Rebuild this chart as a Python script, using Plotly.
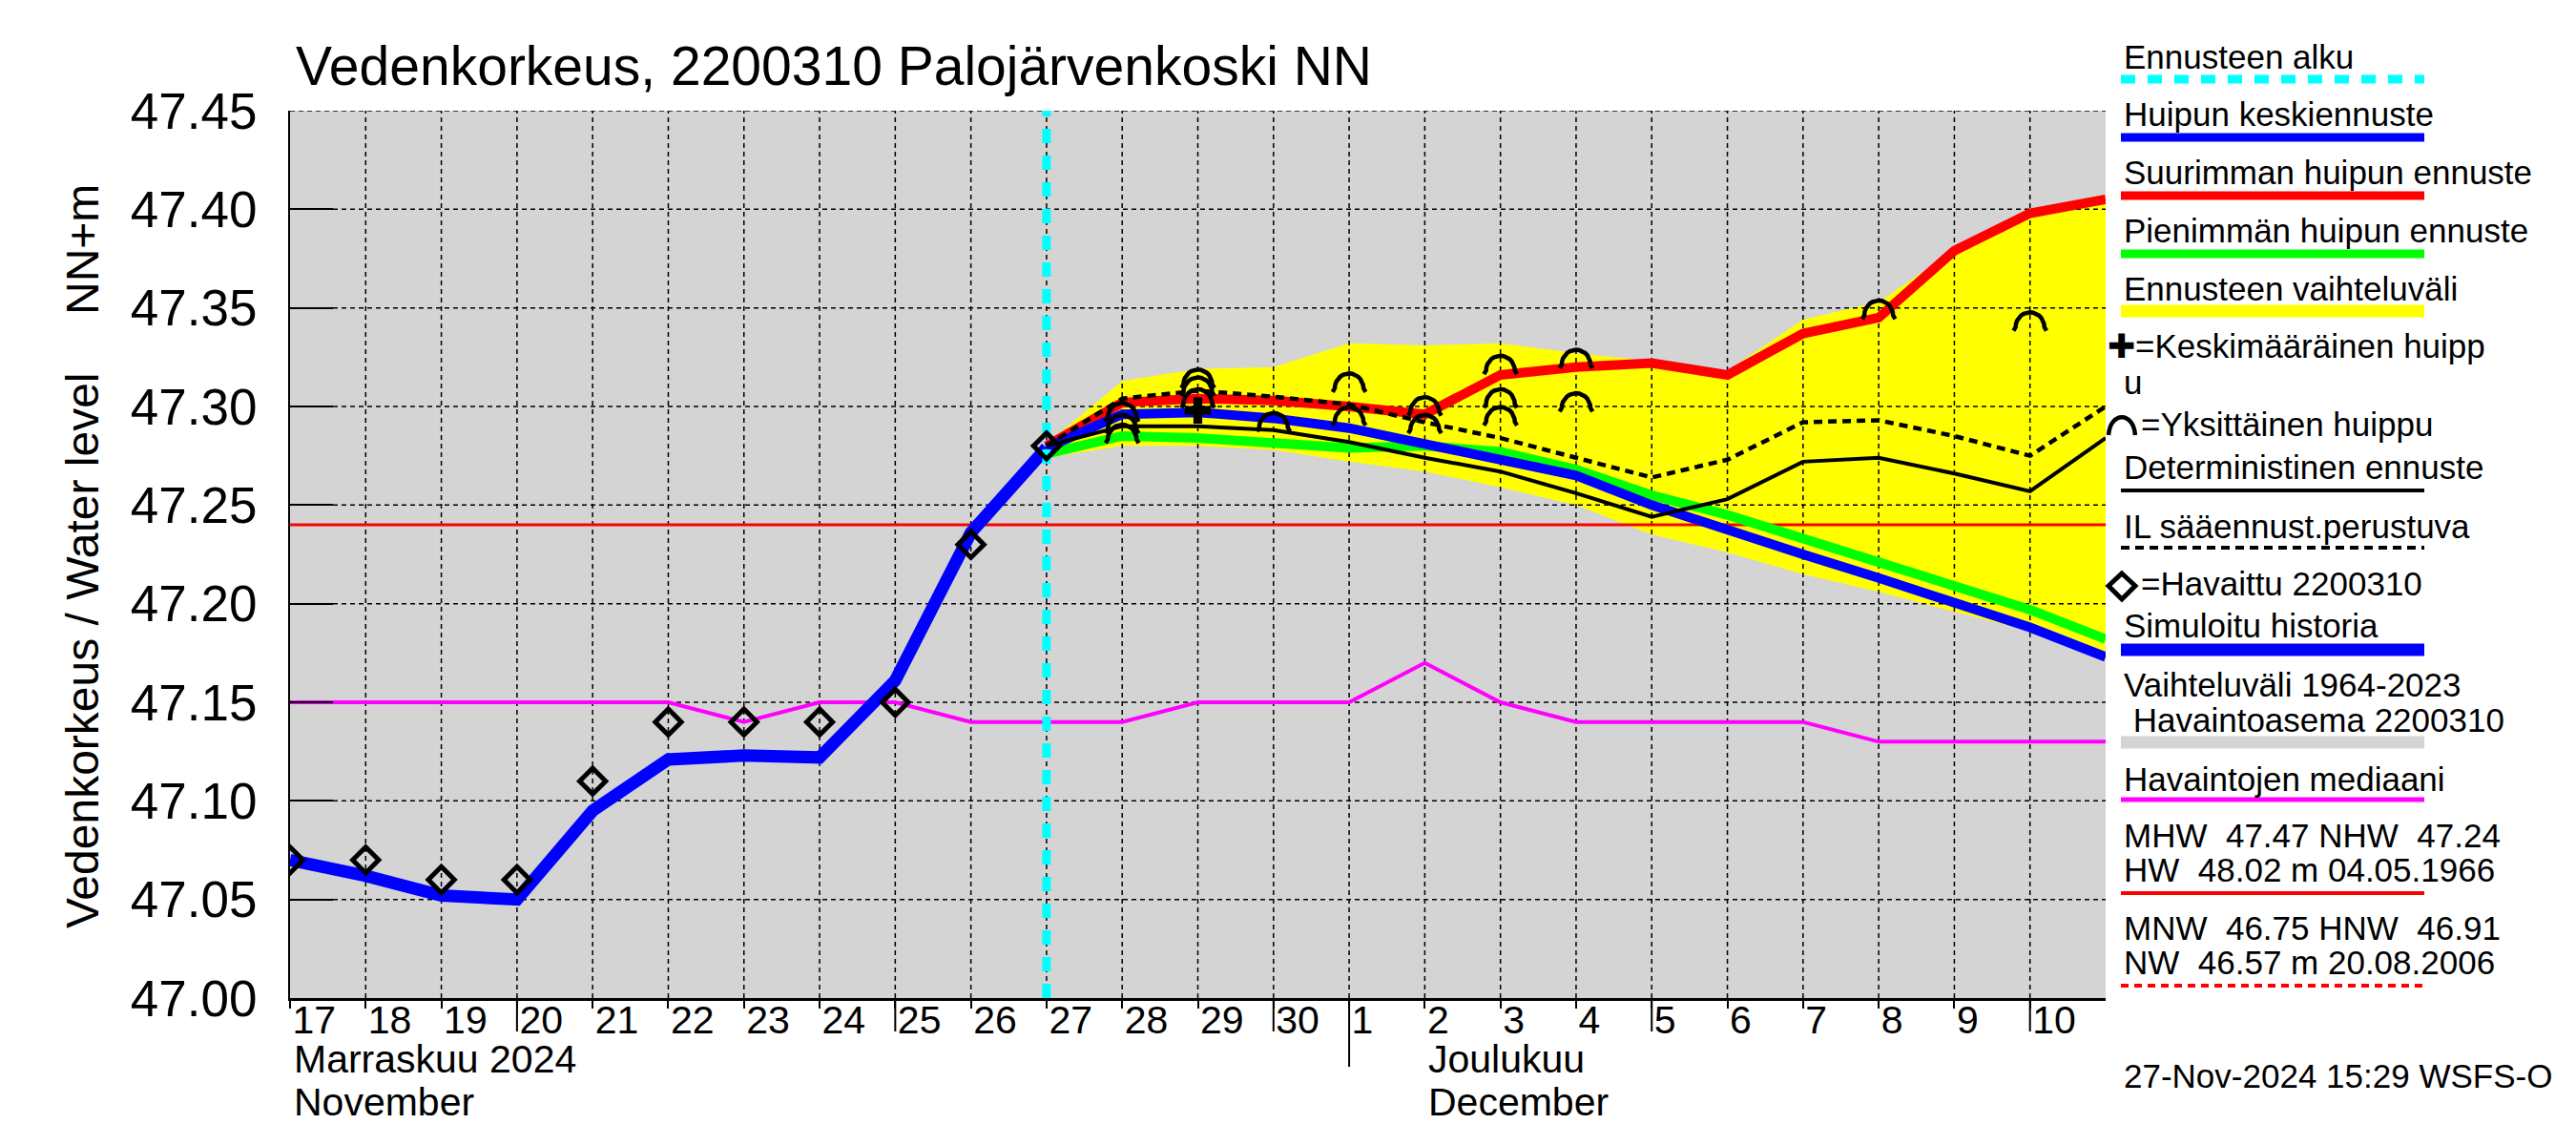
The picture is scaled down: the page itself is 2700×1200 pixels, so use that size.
import math
import plotly.graph_objects as go
import pandas as pd

W, H = 2700, 1200
PL, PR, PT, PB = 304, 2207, 116, 1046

# ---------------- data ----------------
hist_days = pd.date_range("2024-11-17", "2024-11-27", freq="D")
obs_vals = [47.07, 47.07, 47.06, 47.06, 47.11, 47.14, 47.14, 47.14, 47.15, 47.23, 47.28]
sim_vals = [47.070, 47.062, 47.052, 47.050, 47.095, 47.121, 47.123, 47.122, 47.161, 47.236, 47.279]

fc_days = pd.date_range("2024-11-27", "2024-12-11", freq="D")
mean_fc = [47.279, 47.296, 47.297, 47.294, 47.289, 47.281, 47.274, 47.265, 47.250,
           47.237, 47.225, 47.213, 47.200, 47.188, 47.173]
max_fc = [47.280, 47.302, 47.304, 47.303, 47.300, 47.296, 47.316, 47.320, 47.322,
          47.316, 47.337, 47.345, 47.379, 47.398, 47.405]
min_fc = [47.276, 47.285, 47.284, 47.282, 47.279, 47.280, 47.277, 47.268, 47.255,
          47.245, 47.233, 47.221, 47.209, 47.197, 47.182]
det_fc = [47.280, 47.290, 47.290, 47.288, 47.282, 47.274, 47.267, 47.256, 47.244,
          47.253, 47.272, 47.274, 47.266, 47.257, 47.284]
il_fc = [47.280, 47.304, 47.308, 47.305, 47.301, 47.292, 47.284, 47.274, 47.264,
         47.273, 47.292, 47.293, 47.285, 47.275, 47.300]
band_hi = [47.281, 47.313, 47.319, 47.320, 47.332, 47.331, 47.332, 47.327, 47.323,
           47.318, 47.344, 47.353, 47.379, 47.398, 47.407]
band_lo = [47.274, 47.280, 47.280, 47.278, 47.272, 47.267, 47.259, 47.250, 47.235,
           47.226, 47.215, 47.206, 47.196, 47.186, 47.171]

median_days = pd.date_range("2024-11-17", "2024-12-11", freq="D")
median_vals = [47.15, 47.15, 47.15, 47.15, 47.15, 47.15, 47.14, 47.15, 47.15, 47.14,
               47.14, 47.14, 47.15, 47.15, 47.15, 47.17, 47.15, 47.14, 47.14, 47.14,
               47.14, 47.13, 47.13, 47.13, 47.13]

peak_days = ["2024-11-28", "2024-11-28", "2024-11-28",
             "2024-11-29", "2024-11-29", "2024-11-29",
             "2024-11-30",
             "2024-12-01", "2024-12-01",
             "2024-12-02", "2024-12-02",
             "2024-12-03", "2024-12-03", "2024-12-03",
             "2024-12-04", "2024-12-04",
             "2024-12-08", "2024-12-10"]
peak_vals = [47.298, 47.292, 47.287,
             47.315, 47.311, 47.305,
             47.293,
             47.313, 47.296,
             47.301, 47.292,
             47.322, 47.305, 47.296,
             47.325, 47.303,
             47.350, 47.344]
mean_peak_days = ["2024-11-29"]
mean_peak_vals = [47.298]

nhw_level = 47.24
forecast_start = "2024-11-27"
x_range = ["2024-11-17", "2024-12-11"]
y_range = [47.00, 47.45]
y_ticks = [47.00, 47.05, 47.10, 47.15, 47.20, 47.25, 47.30, 47.35, 47.40, 47.45]
tick_days = pd.date_range("2024-11-17", "2024-12-10", freq="D")
tick_text = [str(d.day) for d in tick_days]
long_tick_days = ["2024-11-20", "2024-11-25", "2024-11-30", "2024-12-05", "2024-12-10"]
month_tick_days = ["2024-12-01"]

title_text = "Vedenkorkeus, 2200310 Palojärvenkoski NN"

# ---------------- helpers ----------------
def px_x(px):
    return (px - PL) / (PR - PL)

def px_y(py):
    return (PB - py) / (PB - PT)

# size of the single-peak arc glyph, in axis units (about 15 px radius)
ARC_R_DAYS = 0.19
ARC_R_M = 0.0075

fig = go.Figure()

# forecast range band
fig.add_trace(go.Scatter(x=fc_days, y=band_lo, mode="lines", line=dict(width=0, color="#ffff00"),
                         hoverinfo="skip"))
fig.add_trace(go.Scatter(x=fc_days, y=band_hi, mode="lines", line=dict(width=0, color="#ffff00"),
                         fill="tonexty", fillcolor="#ffff00", hoverinfo="skip"))

# grid lines (drawn above the band, below the lines)
gx, gy = [], []
for d in tick_days[1:]:
    gx += [d, d, None]
    gy += [y_range[0], y_range[1], None]
fig.add_trace(go.Scatter(x=gx, y=gy, mode="lines", line=dict(color="black", width=1.5, dash="5px,4px"),
                         hoverinfo="skip"))
hx, hy = [], []
for v in y_ticks[1:]:
    hx += [x_range[0], x_range[1], None]
    hy += [v, v, None]
fig.add_trace(go.Scatter(x=hx, y=hy, mode="lines", line=dict(color="black", width=1.5, dash="5px,4px"),
                         hoverinfo="skip"))

# median
fig.add_trace(go.Scatter(x=median_days, y=median_vals, mode="lines", line=dict(color="#ff00ff", width=4)))
# NHW
fig.add_trace(go.Scatter(x=x_range, y=[nhw_level, nhw_level], mode="lines", line=dict(color="#ff0000", width=3)))
# simulated history
fig.add_trace(go.Scatter(x=hist_days, y=sim_vals, mode="lines", line=dict(color="#0000ff", width=13)))
# forecasts
fig.add_trace(go.Scatter(x=fc_days, y=min_fc, mode="lines", line=dict(color="#00ff00", width=10)))
fig.add_trace(go.Scatter(x=fc_days, y=max_fc, mode="lines", line=dict(color="#ff0000", width=10)))
fig.add_trace(go.Scatter(x=fc_days, y=mean_fc, mode="lines", line=dict(color="#0000ff", width=10)))
fig.add_trace(go.Scatter(x=fc_days, y=det_fc, mode="lines", line=dict(color="black", width=4)))
fig.add_trace(go.Scatter(x=fc_days, y=il_fc, mode="lines", line=dict(color="black", width=4.5, dash="9px,6px")))

# forecast start
fig.add_trace(go.Scatter(x=[forecast_start, forecast_start], y=y_range, mode="lines",
                         line=dict(color="#00ffff", width=9, dash="15px,13px")))

# observations
fig.add_trace(go.Scatter(x=hist_days, y=obs_vals, mode="markers",
                         marker=dict(symbol="diamond-open", size=21, color="black",
                                     line=dict(width=5, color="black"))))

# single peaks: small arcs centred on each peak value
arc_t = [math.pi * i / 14 for i in range(15)]
ax, ay = [], []
for d, v in zip(peak_days, peak_vals):
    ts = pd.Timestamp(d)
    ax.append(ts + pd.Timedelta(days=ARC_R_DAYS * 1.15))
    ay.append(v - ARC_R_M * 0.75)
    for t in arc_t:
        ax.append(ts + pd.Timedelta(days=ARC_R_DAYS * math.cos(t)))
        ay.append(v - ARC_R_M * 0.5 + ARC_R_M * math.sin(t))
    ax.append(ts - pd.Timedelta(days=ARC_R_DAYS * 1.15))
    ay.append(v - ARC_R_M * 0.75)
    ax.append(None)
    ay.append(None)
fig.add_trace(go.Scatter(x=ax, y=ay, mode="lines", line=dict(color="black", width=4.5),
                         hoverinfo="skip"))
# mean peak
fig.add_trace(go.Scatter(x=mean_peak_days, y=mean_peak_vals, mode="markers",
                         marker=dict(symbol="cross", size=23, color="black")))

# ---------------- shapes: long ticks & legend graphics ----------------
shapes = []
for d in long_tick_days:
    shapes.append(dict(type="line", xref="x", yref="paper", x0=d, x1=d, y0=0, y1=-35 / (PB - PT),
                       line=dict(color="black", width=2)))
for d in month_tick_days:
    shapes.append(dict(type="line", xref="x", yref="paper", x0=d, x1=d, y0=0, y1=-72 / (PB - PT),
                       line=dict(color="black", width=2)))

LX0, LX1 = px_x(2223), px_x(2541)
legend_lines = [
    (83, "#00ffff", 9, "15px,13px"),
    (144, "#0000ff", 9, None),
    (205, "#ff0000", 9, None),
    (266, "#00ff00", 9, None),
    (326, "#ffff00", 13, None),
    (514, "black", 4, None),
    (574, "black", 4, "9px,6px"),
    (681, "#0000ff", 13, None),
    (778, "#d4d4d4", 13, None),
    (838, "#ff00ff", 5, None),
    (936, "#ff0000", 4, None),
    (1033, "#ff0000", 4, "8px,6px"),
]
for py, col, w, dash in legend_lines:
    ln = dict(color=col, width=w)
    if dash:
        ln["dash"] = dash
    shapes.append(dict(type="line", xref="paper", yref="paper", x0=LX0, x1=LX1,
                       y0=px_y(py), y1=px_y(py), line=ln))

# legend arc symbol
shapes.append(dict(type="path", xref="paper", yref="paper",
                   path="M {:.5f},{:.5f} C {:.5f},{:.5f} {:.5f},{:.5f} {:.5f},{:.5f}".format(
                       px_x(2210), px_y(456), px_x(2212), px_y(431), px_x(2236), px_y(431),
                       px_x(2238), px_y(456)),
                   line=dict(color="black", width=4.5)))
# legend diamond symbol
shapes.append(dict(type="path", xref="paper", yref="paper",
                   path="M {:.5f},{:.5f} L {:.5f},{:.5f} L {:.5f},{:.5f} L {:.5f},{:.5f} Z".format(
                       px_x(2224), px_y(601), px_x(2238), px_y(614), px_x(2224), px_y(628),
                       px_x(2210), px_y(614)),
                   line=dict(color="black", width=5)))

# ---------------- annotations ----------------
NB = "\u00a0"
legend_texts = [
    (2224, 59, "Ennusteen alku"),
    (2224, 120, "Huipun keskiennuste"),
    (2224, 180, "Suurimman huipun ennuste"),
    (2224, 241, "Pienimmän huipun ennuste"),
    (2224, 302, "Ennusteen vaihteluväli"),
    (2207, 362, "✚=Keskimääräinen huipp"),
    (2224, 400, "u"),
    (2242, 444, "=Yksittäinen huippu"),
    (2224, 490, "Deterministinen ennuste"),
    (2224, 551, "IL sääennust.perustuva"),
    (2242, 611, "=Havaittu 2200310"),
    (2224, 656, "Simuloitu historia"),
    (2224, 717, "Vaihteluväli 1964-2023"),
    (2224, 754, NB + "Havaintoasema 2200310"),
    (2224, 816, "Havaintojen mediaani"),
    (2224, 875, "MHW" + NB + NB + "47.47 NHW" + NB + NB + "47.24"),
    (2224, 911, "HW" + NB + NB + "48.02 m 04.05.1966"),
    (2224, 972, "MNW" + NB + NB + "46.75 HNW" + NB + NB + "46.91"),
    (2224, 1008, "NW" + NB + NB + "46.57 m 20.08.2006"),
    (2224, 1127, "27-Nov-2024 15:29 WSFS-O"),
]
annotations = []
for px, py, t in legend_texts:
    annotations.append(dict(x=px_x(px), y=px_y(py), xref="paper", yref="paper", text=t,
                            showarrow=False, xanchor="left", yanchor="middle",
                            font=dict(size=35, color="black")))

# month labels
for d, t, py in [("2024-11-17", "Marraskuu 2024", 1110), ("2024-11-17", "November", 1155),
                 ("2024-12-02", "Joulukuu", 1110), ("2024-12-02", "December", 1155)]:
    annotations.append(dict(x=d, y=px_y(py), xref="x", yref="paper", text=t, showarrow=False,
                            xanchor="left", yanchor="middle", xshift=2, font=dict(size=41, color="black")))

# y-axis titles
annotations.append(dict(x=px_x(86), y=px_y(682), xref="paper", yref="paper",
                        text="Vedenkorkeus / Water level", textangle=-90, showarrow=False,
                        xanchor="center", yanchor="middle", font=dict(size=48, color="black")))
annotations.append(dict(x=px_x(86), y=px_y(262), xref="paper", yref="paper",
                        text="NN+m", textangle=-90, showarrow=False,
                        xanchor="center", yanchor="middle", font=dict(size=48, color="black")))

fig.update_layout(
    width=W, height=H,
    margin=dict(l=PL, r=W - PR, t=PT, b=H - PB, pad=0),
    paper_bgcolor="white", plot_bgcolor="#d4d4d4",
    showlegend=False,
    font=dict(family="Liberation Sans, Arial, Helvetica, sans-serif", color="black"),
    title=dict(text=title_text, x=310 / W, xref="container", xanchor="left",
               y=1 - 69 / H, yref="container", yanchor="middle",
               font=dict(size=57, color="black")),
    shapes=shapes,
    annotations=annotations,
)
fig.update_xaxes(
    type="date", range=x_range, tickmode="array", tickvals=list(tick_days), ticktext=tick_text,
    ticks="outside", ticklen=8, tickwidth=2, tickcolor="black",
    ticklabelposition="outside right", ticklabelstandoff=-15,
    tickfont=dict(size=41, color="black"),
    showgrid=False, zeroline=False, showline=True, linecolor="black", linewidth=3,
)
fig.update_yaxes(
    range=y_range, tickmode="array", tickvals=y_ticks, tickformat=".2f",
    ticks="inside", ticklen=45, tickwidth=2, tickcolor="black",
    tickfont=dict(size=53, color="black"), ticklabelstandoff=22,
    showgrid=False, zeroline=False, showline=True, linecolor="black", linewidth=2,
)

fig.write_html("out.html", config={"displayModeBar": False},
               post_script="document.body.style.margin='0';document.body.style.overflow='hidden';")
